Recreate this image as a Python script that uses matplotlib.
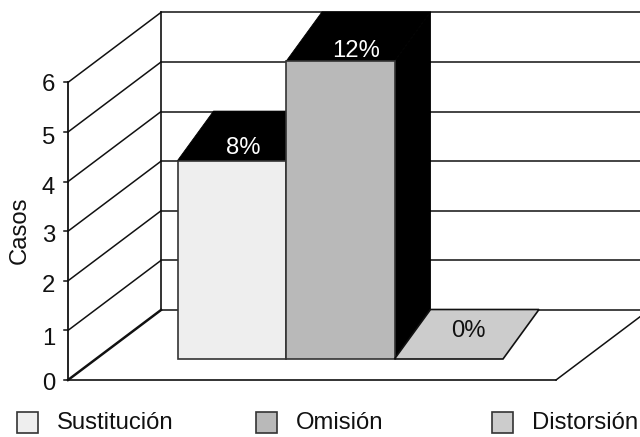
import matplotlib.pyplot as plt
from matplotlib.patches import Polygon, Rectangle

plt.rcParams['font.family'] = ['Liberation Sans', 'DejaVu Sans']

categories = ["Sustitución", "Omisión", "Distorsión"]
casos = [4, 6, 0]
porcentajes = ["8%", "12%", "0%"]
colores = ["#eeeeee", "#b9b9b9", "#cccccc"]
ticks = [0, 1, 2, 3, 4, 5, 6]

# pseudo 3d layout, in pixels
WALL_X = 68
WALL_Y0 = 380
UNIT = 49.6
WALL_DX = 93
WALL_DY = 70
FLOOR_END = 556
BAR_X0 = 177.5
BAR_W = 108.5
BAR_Y0 = 359
BAR_DX = 36
BAR_DY = 49.5
LEG_BOX = [17, 256, 492]
LEG_TXT = [57, 296, 532]
LAB_DX = [65.5, 70, 74]
LAB_DY = [13, 10, 28]
TICK_PAD = [4, 9, 5, 5, 6, 6, 3]
FS = 17.2
INK = '#111111'

fig = plt.figure(figsize=(6.4, 4.37), dpi=100)
ax = fig.add_axes([0, 0, 1, 1])
ax.set_xlim(0, 640)
ax.set_ylim(437, 0)
ax.axis('off')


def line(xs, ys, lw=1.2, color=INK):
    ax.plot(xs, ys, color=color, lw=lw, solid_capstyle='projecting', zorder=1, clip_on=True)


back_x = WALL_X + WALL_DX
for t in ticks:
    y = WALL_Y0 - t * UNIT
    lw = 1.8 if t == 0 else 1.1
    line([WALL_X, back_x], [y, y - WALL_DY], lw)
    line([back_x, 640], [y - WALL_DY, y - WALL_DY], 1.1)
    line([WALL_X - 4, WALL_X], [y, y], 1.1)
    ax.text(55, y + TICK_PAD[t], str(t), fontsize=FS, ha='right', va='center', color=INK)

line([WALL_X, WALL_X], [WALL_Y0, WALL_Y0 - ticks[-1] * UNIT], 1.3)
line([back_x, back_x], [WALL_Y0 - WALL_DY, WALL_Y0 - WALL_DY - ticks[-1] * UNIT], 1.2)

# floor outline
line([WALL_X, FLOOR_END], [WALL_Y0, WALL_Y0], 1.2)
line([FLOOR_END, FLOOR_END + WALL_DX], [WALL_Y0, WALL_Y0 - WALL_DY], 1.1)

ax.text(19.5, 230, "Casos", fontsize=FS, rotation=90, ha='center', va='center', color=INK)

# bars, drawn back to front from left to right
for i in range(len(casos)):
    x0 = BAR_X0 + i * BAR_W
    x1 = x0 + BAR_W
    top = BAR_Y0 - casos[i] * UNIT
    if casos[i] > 0:
        # right side
        ax.add_patch(Polygon([(x1, BAR_Y0), (x1 + BAR_DX, BAR_Y0 - BAR_DY),
                              (x1 + BAR_DX, top - BAR_DY), (x1, top)],
                             fc='black', ec='black', lw=0.6, zorder=2))
        # top
        ax.add_patch(Polygon([(x0, top), (x0 + BAR_DX, top - BAR_DY),
                              (x1 + BAR_DX, top - BAR_DY), (x1, top)],
                             fc='black', ec='black', lw=0.6, zorder=2))
        ax.add_patch(Rectangle((x0, top), BAR_W, BAR_Y0 - top, fc=colores[i],
                               ec='#333333', lw=1.2, zorder=3))
        txt_c = 'white'
    else:
        # empty bar only shows its floor
        ax.add_patch(Polygon([(x0, top), (x0 + BAR_DX, top - BAR_DY),
                              (x1 + BAR_DX, top - BAR_DY), (x1, top)],
                             fc=colores[i], ec=INK, lw=1.2, zorder=4))
        txt_c = INK
    ax.text(x0 + LAB_DX[i], top - LAB_DY[i], porcentajes[i],
            fontsize=FS, color=txt_c, ha='center', va='center', zorder=5)

# legend
for i in range(len(categories)):
    ax.add_patch(Rectangle((LEG_BOX[i], 412), 20.5, 20.5, fc=colores[i], ec='#333333', lw=1.2))
    ax.text(LEG_TXT[i], 423, categories[i], fontsize=FS, ha='left', va='center', color=INK)

fig.savefig('out.png', dpi=100)
